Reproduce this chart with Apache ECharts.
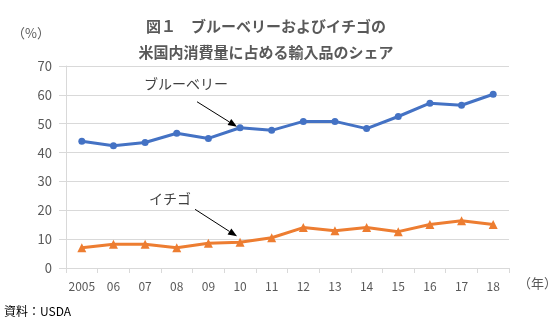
<!DOCTYPE html>
<html>
<head>
<meta charset="utf-8">
<script src="https://cdn.jsdelivr.net/npm/echarts@6/dist/echarts.min.js"></script>
<style>
  html, body { margin: 0; padding: 0; background: #fff; }
  #chart { width: 557px; height: 331px; }
</style>
</head>
<body>
<div id="chart"></div>
<script>
// Years on the horizontal axis (2005–2018)
const years = ['2005', '06', '07', '08', '09', '10', '11', '12', '13', '14', '15', '16', '17', '18'];
// Import share of US domestic consumption (%)
const blueberry = [43.9, 42.4, 43.5, 46.7, 44.9, 48.6, 47.7, 50.8, 50.8, 48.3, 52.5, 57.1, 56.4, 60.2];
const strawberry = [7.0, 8.2, 8.2, 7.0, 8.6, 8.9, 10.5, 14.0, 12.9, 14.0, 12.6, 15.1, 16.4, 15.1];
const yTicks = [0, 10, 20, 30, 40, 50, 60, 70];

const FONT = '"Noto Sans CJK JP", "Noto Sans", sans-serif';
const GREY = '#595959';
const BLUE = '#4472C4';
const ORANGE = '#ED7D31';

const chart = echarts.init(document.getElementById('chart'), null, { renderer: 'canvas' });

chart.setOption({
  animation: false,
  backgroundColor: '#fff',
  textStyle: { fontFamily: FONT },
  title: {
    text: '図１　ブルーベリーおよびイチゴの\n米国内消費量に占める輸入品のシェア',
    left: 261,
    top: 8,
    textAlign: 'center',
    textStyle: { fontFamily: FONT, fontSize: 15, fontWeight: 'bold', color: GREY, lineHeight: 26 }
  },
  grid: { left: 66, right: 48, top: 66, bottom: 63 },
  xAxis: {
    type: 'category',
    data: years,
    boundaryGap: true,
    axisLine: { show: true, lineStyle: { color: '#d9d9d9', width: 1 } },
    axisTick: { show: true, length: 5, interval: 0, lineStyle: { color: '#d9d9d9' } },
    axisLabel: { color: GREY, fontSize: 12, margin: 12, interval: 0, fontFamily: FONT },
    splitLine: { show: false }
  },
  yAxis: {
    type: 'value',
    min: yTicks[0],
    max: yTicks[yTicks.length - 1],
    interval: 10,
    axisLine: { show: true, lineStyle: { color: '#d9d9d9', width: 1 } },
    axisTick: { show: true, length: 7, lineStyle: { color: '#d9d9d9' } },
    axisLabel: { color: GREY, fontSize: 13, margin: 14, fontFamily: FONT },
    splitLine: { show: true, lineStyle: { color: '#d9d9d9', width: 1 } }
  },
  series: [
    {
      name: 'ブルーベリー',
      type: 'line',
      data: blueberry,
      symbol: 'circle',
      symbolSize: 7,
      lineStyle: { color: BLUE, width: 3 },
      itemStyle: { color: BLUE }
    },
    {
      name: 'イチゴ',
      type: 'line',
      data: strawberry,
      symbol: 'triangle',
      symbolSize: 9,
      lineStyle: { color: ORANGE, width: 3 },
      itemStyle: { color: ORANGE }
    }
  ]
});

// Arrow (line + head) from a pixel start to a pixel end
function arrow(x1, y1, x2, y2) {
  const ang = Math.atan2(y2 - y1, x2 - x1);
  const len = 9, half = 3.5;
  const bx = x2 - len * Math.cos(ang), by = y2 - len * Math.sin(ang);
  const px = -Math.sin(ang) * half, py = Math.cos(ang) * half;
  return [
    { type: 'line', shape: { x1: x1, y1: y1, x2: bx, y2: by }, style: { stroke: '#000', lineWidth: 1 }, z: 20 },
    { type: 'polygon', shape: { points: [[x2, y2], [bx + px, by + py], [bx - px, by - py]] }, style: { fill: '#000' }, z: 20 }
  ];
}

// Series callouts pointing at the 2010 value
const idx2010 = years.indexOf('10');
const pB = chart.convertToPixel({ gridIndex: 0 }, [idx2010, blueberry[idx2010]]);
const pS = chart.convertToPixel({ gridIndex: 0 }, [idx2010, strawberry[idx2010]]);

const txt = (t, x, y, align, size, color) => ({
  type: 'text', x: x, y: y, z: 20,
  style: { text: t, fill: color || GREY, font: (size || 13) + 'px ' + FONT, textAlign: align || 'left', textVerticalAlign: 'middle' }
});

chart.setOption({
  graphic: [
    txt('ブルーベリー', pB[0] - 54, pB[1] - 44, 'center', 14, '#404040'),
    ...arrow(pB[0] - 43, pB[1] - 26, pB[0] - 3, pB[1] - 1),
    txt('イチゴ', pS[0] - 70, pS[1] - 44, 'center', 14, '#404040'),
    ...arrow(pS[0] - 45, pS[1] - 33, pS[0] - 3, pS[1] - 6),
    txt('（%）', 12, 33, 'left', 13, GREY),
    txt('（年）', 518, 283, 'left', 13, GREY),
    txt('資料：USDA', 4, 311, 'left', 12, '#000')
  ]
});
</script>
</body>
</html>
